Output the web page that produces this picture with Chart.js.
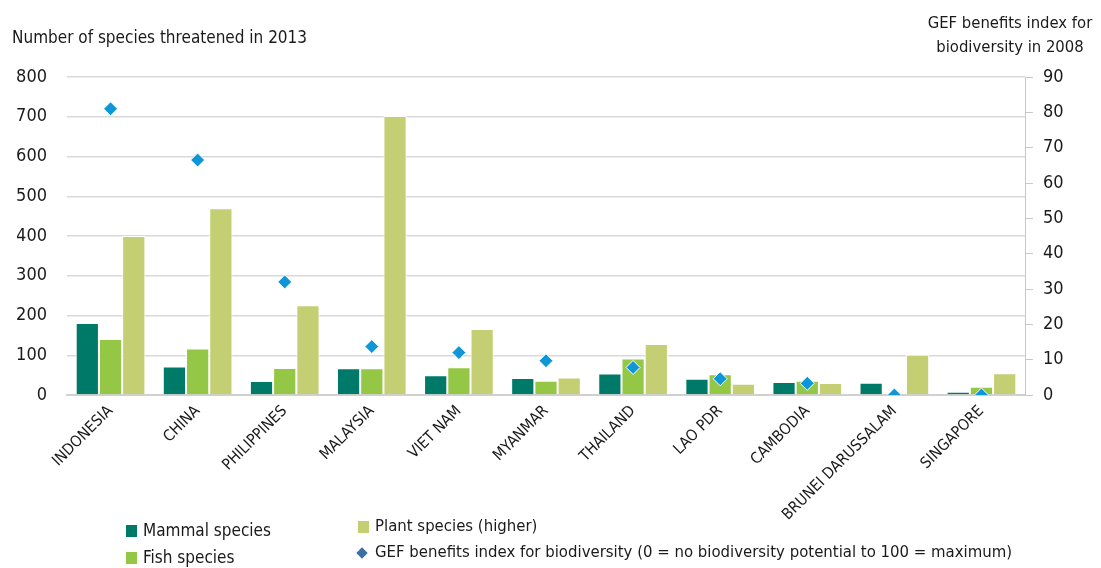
<!DOCTYPE html>
<html>
<head>
<meta charset="utf-8">
<script src="https://cdn.jsdelivr.net/npm/chart.js@4/dist/chart.umd.min.js"></script>
<style>
  html, body { margin: 0; padding: 0; background: #fff; }
  body { width: 1101px; height: 568px; position: relative; overflow: hidden;
         font-family: "Liberation Sans Narrow", "DejaVu Sans Condensed", sans-serif; color: #1a1a1a; }
  #wrap { position: absolute; left: 0; top: 0; width: 1101px; height: 568px; }
  .t { position: absolute; white-space: nowrap; font-size: 17px; }
  .sw { position: absolute; width: 11px; height: 12px; }
  .dm { position: absolute; width: 8px; height: 8px; background: #3a6ea5; transform: rotate(45deg); }
</style>
</head>
<body>
<div id="wrap"><canvas id="c" width="1101" height="568"></canvas></div>
<div class="t" style="left:12px; top:27px;">Number of species threatened in 2013</div>
<div class="t" style="left:910px; top:11px; width:200px; text-align:center; line-height:24px; font-size:16.5px;">GEF benefits index for<br>biodiversity in 2008</div>

<div class="sw" style="left:126px; top:525px; background:#007a68;"></div>
<div class="t" style="left:143px; top:520px;">Mammal species</div>
<div class="sw" style="left:126px; top:552px; background:#95c747;"></div>
<div class="t" style="left:143px; top:547px;">Fish species</div>
<div class="sw" style="left:358px; top:521px; background:#c3cf72;"></div>
<div class="t" style="left:375px; top:516px; font-size:16.6px;">Plant species (higher)</div>
<div class="dm" style="left:358px; top:549px;"></div>
<div class="t" style="left:375px; top:542px; font-size:16.6px;">GEF benefits index for biodiversity (0 = no biodiversity potential to 100 = maximum)</div>

<script>
const categories = ["INDONESIA","CHINA","PHILIPPINES","MALAYSIA","VIET NAM","MYANMAR","THAILAND","LAO PDR","CAMBODIA","BRUNEI DARUSSALAM","SINGAPORE"];
const mammalSpecies = [181, 72, 35, 67, 50, 43, 54, 41, 33, 31, 8];
const fishSpecies   = [141, 117, 68, 67, 70, 36, 92, 52, 36, 3, 21];
const plantSpecies  = [400, 470, 226, 702, 166, 44, 128, 28, 30, 101, 55];
const gefIndex      = [81, 66.5, 32, 13.7, 12, 9.7, 7.8, 4.6, 3.3, 0, 0];
const leftTicks = [0, 800, 100];
const rightTicks = [0, 90, 10];

const FONT = "'Liberation Sans Narrow', 'DejaVu Sans Condensed', sans-serif";
Chart.defaults.font.family = FONT;
Chart.defaults.color = '#1a1a1a';

new Chart(document.getElementById('c'), {
  data: {
    labels: categories,
    datasets: [
      { type: 'line', label: 'GEF', data: gefIndex, yAxisID: 'y1', showLine: false,
        pointStyle: 'rectRot', pointRadius: 7, pointHoverRadius: 7,
        backgroundColor: '#0e96d8', borderColor: '#ffffff', borderWidth: 1, order: 0 },
      { type: 'bar', label: 'Mammal species', data: mammalSpecies, yAxisID: 'y',
        backgroundColor: '#007a68', borderColor: '#ffffff', borderWidth: 1, order: 1 },
      { type: 'bar', label: 'Fish species', data: fishSpecies, yAxisID: 'y',
        backgroundColor: '#95c747', borderColor: '#ffffff', borderWidth: 1, order: 1 },
      { type: 'bar', label: 'Plant species (higher)', data: plantSpecies, yAxisID: 'y',
        backgroundColor: '#c3cf72', borderColor: '#ffffff', borderWidth: 1, order: 1 }
    ]
  },
  options: {
    responsive: false,
    animation: false,
    layout: { padding: { top: 77, left: 17, right: 30, bottom: 43 } },
    plugins: { legend: { display: false }, tooltip: { enabled: false } },
    datasets: { bar: { barPercentage: 1.0, categoryPercentage: 0.8 } },
    scales: {
      x: {
        grid: { display: false, drawTicks: false },
        border: { display: true, color: '#d0d0d0', width: 2 },
        ticks: { minRotation: 45, maxRotation: 45, autoSkip: false, padding: 7,
                 font: { size: 15.5 }, color: '#1a1a1a' },
        afterFit(scale) { scale.height = 130; scale.paddingLeft = 0; scale.paddingRight = 0; }
      },
      y: {
        position: 'left', min: leftTicks[0], max: leftTicks[1],
        ticks: { stepSize: leftTicks[2], padding: 20, font: { size: 18 }, color: '#1a1a1a' },
        grid: { color: '#d9d9d9', lineWidth: 1.5, drawTicks: false },
        border: { display: false },
        afterFit(scale) { scale.width = 50; }
      },
      y1: {
        position: 'right', min: rightTicks[0], max: rightTicks[1],
        ticks: { stepSize: rightTicks[2], padding: 10, font: { size: 18 }, color: '#1a1a1a' },
        grid: { drawOnChartArea: false, drawTicks: true, tickLength: 8, color: '#c8c8c8' },
        border: { display: true, color: '#c8c8c8', width: 1 },
        afterFit(scale) { scale.width = 46; }
      }
    }
  }
});
</script>
</body>
</html>
